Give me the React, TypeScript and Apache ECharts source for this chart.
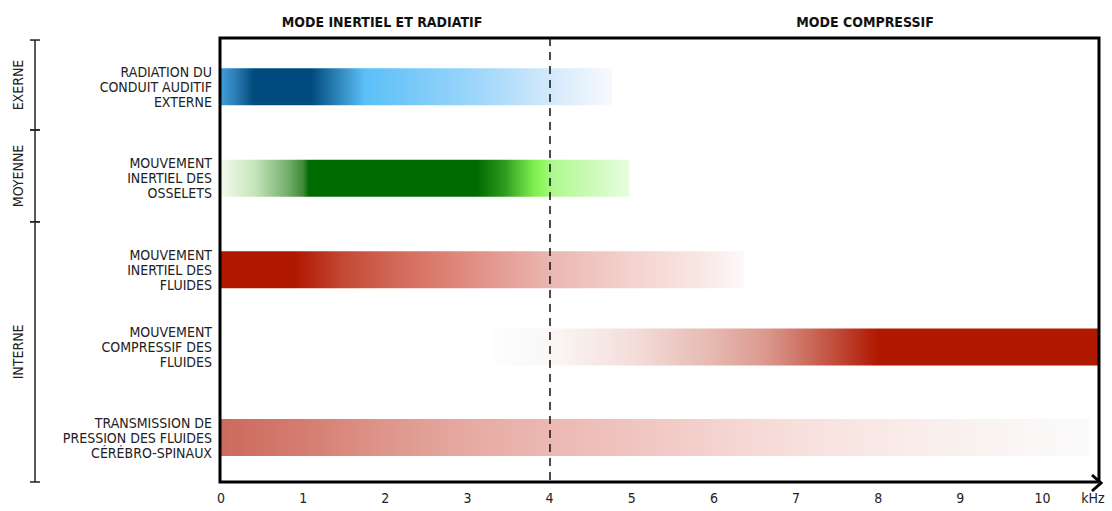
import React, { useEffect, useRef } from 'react';
import * as echarts from 'echarts';

const FONT = '"Liberation Sans Narrow", "DejaVu Sans Condensed", "Open Sans", sans-serif';

const rowLabels = [
  'RADIATION DU\nCONDUIT AUDITIF\nEXTERNE',
  'MOUVEMENT\nINERTIEL DES\nOSSELETS',
  'MOUVEMENT\nINERTIEL DES\nFLUIDES',
  'MOUVEMENT\nCOMPRESSIF DES\nFLUIDES',
  'TRANSMISSION DE\nPRESSION DES FLUIDES\nCÉRÉBRO-SPINAUX',
];
const rowPositions = [0.55, 1.58, 2.61, 3.48, 4.5];
const rowStart = [0, 0, 0, 3.3, 0];
const rowEnd = [4.76, 4.97, 6.37, 10.7, 10.57];
const rowStops: [number, string][][] = [
  [[0, '#3d9fda'], [0.16, '#2f7fb8'], [0.4, '#004b7d'], [1.1, '#004b7d'], [1.75, '#5bbff7'], [3.1, '#9dd6fa'], [4, '#d3e9fb'], [4.76, '#f7f9fd']],
  [[0, '#f2faee'], [0.4, '#c8e6bc'], [0.8, '#78b070'], [1.0, '#3d8a38'], [1.07, '#006b00'], [3.12, '#006b00'], [3.45, '#2e9a1e'], [3.81, '#80ee50'], [3.9, '#8cf55a'], [4.05, '#b0f890'], [4.97, '#e8fde0']],
  [[0, '#b01800'], [0.9, '#b01800'], [1.5, '#c44a36'], [2.2, '#d46c5c'], [3, '#e08c80'], [4, '#eab6b0'], [5, '#f4d2ce'], [5.8, '#f8e6e3'], [6.37, '#fcf9f8']],
  [[3.3, '#fefefe'], [3.7, '#fafafa'], [4, '#fbf7f6'], [5, '#f4dedb'], [6, '#e6b8b0'], [6.6, '#dc9a90'], [7, '#d07a6c'], [7.5, '#c04a38'], [8, '#b01800'], [10.7, '#b01800']],
  [[0, '#cc6a5e'], [1, '#d57c70'], [2, '#de968b'], [3, '#e6aaa2'], [4, '#ecb8b2'], [5, '#f0c4c0'], [6, '#f4d2cf'], [7, '#f7dfdc'], [8, '#f9e9e6'], [9, '#f9f1ef'], [10, '#faf8f7'], [10.57, '#fbfafa']],
];

const groupNames = ['EXERNE', 'MOYENNE', 'INTERNE'];
const groupFrom = [0.023, 1.036, 2.07];
const groupTo = [1.036, 2.07, 5.0];

const headerTexts = ['MODE INERTIEL ET RADIATIF', 'MODE COMPRESSIF'];
const headerX = [382, 865];

const X_MAX = 10.7;

export default function App() {
  const ref = useRef<HTMLDivElement>(null);
  useEffect(() => {
    if (!ref.current) return;
    const chart = echarts.init(ref.current, null, { renderer: 'svg' });
    const barData = rowStart.map((s, i) => [s, rowEnd[i], rowPositions[i]]);
    const groupData = groupFrom.map((f, i) => [f, groupTo[i]]);
    const gl = 221, gt = 38, gw = 879, gh = 444;
    chart.setOption({
      animation: false,
      grid: { left: gl, top: gt, width: gw, height: gh },
      xAxis: {
        type: 'value', min: 0, max: X_MAX, interval: 1,
        splitLine: { show: false }, axisLine: { show: false }, axisTick: { show: false },
        axisLabel: { showMaxLabel: false, margin: 9, fontSize: 14, color: '#222', fontFamily: FONT },
      },
      yAxis: { type: 'value', min: 0, max: 5, inverse: true, show: false },
      graphic: [
        { type: 'rect', z: 100, shape: { x: gl - 1, y: gt, width: gw, height: gh }, style: { fill: 'none', stroke: '#000', lineWidth: 3 } },
        { type: 'polyline', z: 100, shape: { points: [[1092, 475], [1101, 483], [1092, 491]] }, style: { fill: 'none', stroke: '#000', lineWidth: 3 } },
        { type: 'text', x: 1093, y: 498, style: { text: 'kHz', align: 'center', verticalAlign: 'middle', fontSize: 14, fill: '#222', fontFamily: FONT } },
        ...headerTexts.map((t, i) => ({
          type: 'text', x: headerX[i], y: 22,
          style: { text: t, align: 'center', verticalAlign: 'middle', fontSize: 14, fontWeight: 'bold', fill: '#111', fontFamily: FONT },
        })),
      ],
      series: [
        {
          type: 'custom',
          encode: { x: [0, 1], y: 2 },
          data: barData,
          renderItem: (params: any, api: any) => {
            const i = params.dataIndex;
            const s = api.value(0), e = api.value(1), p = api.value(2);
            const p0 = api.coord([s, p]);
            const p1 = api.coord([e, p]);
            const ax = api.coord([0, p])[0];
            const h = 37;
            const stops = rowStops[i].map(([v, c]) => ({ offset: Math.min(1, Math.max(0, (v - s) / (e - s))), color: c }));
            return {
              type: 'group',
              children: [
                {
                  type: 'rect',
                  shape: { x: p0[0], y: p0[1] - h / 2, width: p1[0] - p0[0], height: h },
                  style: { fill: new echarts.graphic.LinearGradient(0, 0, 1, 0, stops) },
                },
                {
                  type: 'text', x: ax - 9, y: p0[1],
                  style: { text: rowLabels[i], align: 'right', verticalAlign: 'middle', fontSize: 14, lineHeight: 15, fill: '#222', fontFamily: FONT },
                },
              ],
            };
          },
          markLine: {
            silent: true, symbol: ['none', 'none'], label: { show: false },
            lineStyle: { color: '#111', type: [8, 6], width: 1.5 },
            data: [{ xAxis: 4 }],
          },
          z: 2,
        },
        {
          type: 'custom',
          encode: { y: [0, 1] },
          data: groupData,
          renderItem: (params: any, api: any) => {
            const i = params.dataIndex;
            const y0 = api.coord([0, api.value(0)])[1];
            const y1 = api.coord([0, api.value(1)])[1];
            const x = 35;
            const ls = { stroke: '#222', lineWidth: 1.5 };
            return {
              type: 'group',
              children: [
                { type: 'line', shape: { x1: x, y1: y0, x2: x, y2: y1 }, style: ls },
                { type: 'line', shape: { x1: x - 5, y1: y0, x2: x + 5, y2: y0 }, style: ls },
                { type: 'line', shape: { x1: x - 5, y1: y1, x2: x + 5, y2: y1 }, style: ls },
                {
                  type: 'text', x: 18, y: (y0 + y1) / 2, rotation: Math.PI / 2,
                  style: { text: groupNames[i], align: 'center', verticalAlign: 'middle', fontSize: 14, fill: '#222', fontFamily: FONT },
                },
              ],
            };
          },
        },
      ],
    });
    return () => chart.dispose();
  }, []);
  return <div ref={ref} style={{ position: 'absolute', left: 0, top: 0, width: 1112, height: 511 }} />;
}
